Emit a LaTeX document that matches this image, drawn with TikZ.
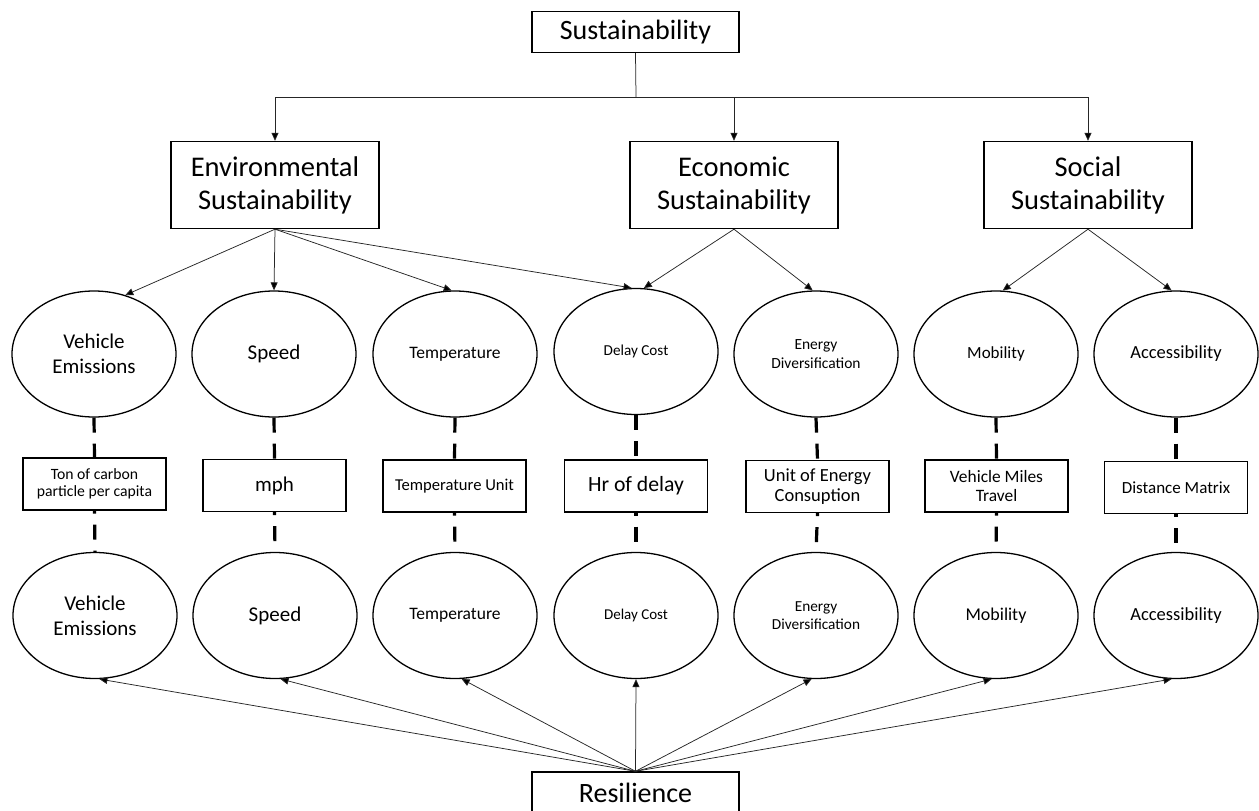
\documentclass[tikz,border=0pt]{standalone}
\usepackage{fontspec}
\setmainfont{Carlito}
\usetikzlibrary{arrows.meta,shapes.geometric}
\newcommand{\fs}[1]{\fontsize{#1}{\fpeval{1.2*#1}}\selectfont}
\newcommand{\fsb}[1]{\fontsize{#1}{\fpeval{1.1*#1}}\selectfont}
\tikzset{
  bigbox/.style={draw, line width=1.4pt, minimum width=208pt, minimum height=87pt, inner sep=0pt, align=center, font=\fontsize{28.5}{33}\selectfont},
  topbox/.style={draw, line width=1.4pt, minimum width=207pt, minimum height=41pt, inner sep=0pt, align=center, font=\fontsize{28}{32}\selectfont},
  unitbox/.style={draw, line width=1.3pt, minimum width=143pt, minimum height=52pt, inner sep=0pt, align=center},
  oval/.style={draw, ellipse, line width=1.3pt, minimum width=164pt, minimum height=126pt, inner sep=0pt, align=center},
  arr/.style={line width=0.75pt, draw=black!85, -{Triangle[length=8pt,width=7pt,fill=black]}},
  plain/.style={line width=0.75pt, draw=black!85},
  dashA/.style={line width=3.2pt, dash pattern=on 15pt off 11pt},
  dashB/.style={line width=3.2pt, dash pattern=on 15pt off 11pt, dash phase=12pt},
}
\begin{document}
\begin{tikzpicture}[x=1pt,y=-1pt]
\useasboundingbox (0,0) rectangle (1259,811);
% top
\node[topbox] (S) at (635.5,32) {Sustainability};
\node[bigbox] (Env) at (275,185) {Environmental\\Sustainability};
\node[bigbox] (Eco) at (734,185) {Economic\\Sustainability};
\node[bigbox] (Soc) at (1088,185) {Social\\Sustainability};
\coordinate (J) at (636,97);
\coordinate (JL) at (275,97);
\coordinate (JM) at (734,97);
\coordinate (JR) at (1088,97);
\draw[plain] (S.south) -- (J);
\draw[plain] (JL) -- (JR);
\draw[arr] (JL) -- (Env.north);
\draw[arr] (JM) -- (Eco.north);
\draw[arr] (JR) -- (Soc.north);
% top ellipses
\node[oval, font=\fs{21}] (A1) at (94,354) {Vehicle\\Emissions};
\node[oval, font=\fs{21}] (B1) at (274,354) {Speed};
\node[oval, font=\fs{17.5}] (C1) at (455,354) {Temperature};
\node[oval, font=\fs{15.2}] (D1) at (636,351.5) {Delay Cost};
\node[oval, font=\fs{15.5}] (E1) at (816,354) {Energy\\Diversification};
\node[oval, font=\fs{17}] (F1) at (996,354) {Mobility};
\node[oval, font=\fs{18.5}] (G1) at (1176,354) {Accessibility};
% unit boxes
\node[unitbox, font=\fsb{15.7}] (A2) at (94.5,484) {Ton of carbon\\particle per capita};
\node[unitbox, font=\fs{21}] (B2) at (274.5,485.5) {mph};
\node[unitbox, font=\fs{16.6}] (C2) at (454.5,486) {Temperature Unit};
\node[unitbox, font=\fs{21.7}] (D2) at (636,486) {Hr of delay};
\node[unitbox, font=\fsb{18.5}] (E2) at (817.5,486.5) {Unit of Energy\\Consuption};
\node[unitbox, font=\fsb{17.4}] (F2) at (996.5,486) {Vehicle Miles\\Travel};
\node[unitbox, font=\fs{17}] (G2) at (1176,487.5) {Distance Matrix};
% bottom ellipses
\node[oval, font=\fs{21}] (A3) at (95,615.5) {Vehicle\\Emissions};
\node[oval, font=\fs{21}] (B3) at (275,615.5) {Speed};
\node[oval, font=\fs{17.5}] (C3) at (455,615.5) {Temperature};
\node[oval, font=\fs{15}] (D3) at (636,615.5) {Delay Cost};
\node[oval, font=\fs{15.3}] (E3) at (816,615.5) {Energy\\Diversification};
\node[oval, font=\fs{18}] (F3) at (996,615.5) {Mobility};
\node[oval, font=\fs{18.5}] (G3) at (1176,615.5) {Accessibility};
% Resilience
\node[topbox] (R) at (635.5,792.5) {Resilience};
% Env arrows
\draw[arr] (Env.south) -- (A1.62);
\draw[arr] (Env.south) -- (B1.north);
\draw[arr] (Env.south) -- (C1.93);
\draw[arr] (Env.south) -- (D1.94);
\draw[arr] (Eco.south) -- (D1.83);
\draw[arr] (Eco.south) -- (E1.93);
\draw[arr] (Soc.south) -- (F1.84);
\draw[arr] (Soc.south) -- (G1.94);
% dashed links
\foreach \n in {A,B,C,D,E,F,G}{
  \draw[dashA] (\n1.south) -- (\n2.north);
  \draw[dashB] (\n2.south) -- (\n3.north);
}
% resilience arrows
\draw[arr] (R.north) -- (A3.-86);
\draw[arr] (R.north) -- (B3.-85);
\draw[arr] (R.north) -- (C3.-84);
\draw[arr] (R.north) -- (D3.south);
\draw[arr] (R.north) -- (E3.-94);
\draw[arr] (R.north) -- (F3.-94);
\draw[arr] (R.north) -- (G3.-94);
\end{tikzpicture}
\end{document}
